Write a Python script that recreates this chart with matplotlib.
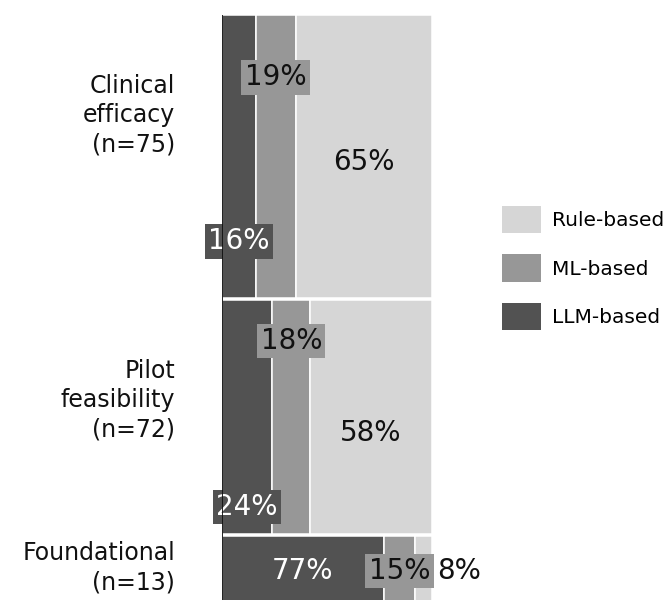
import matplotlib.pyplot as plt
from matplotlib.patches import Patch

# share of each system type within every study category (percent)
groups = ['Clinical\nefficacy\n(n=75)', 'Pilot\nfeasibility\n(n=72)', 'Foundational\n(n=13)']
llm_pct = [16, 24, 77]
ml_pct = [19, 18, 15]
rule_pct = [65, 58, 8]

series_names = ['LLM-based', 'ML-based', 'Rule-based']
colors = ['#525252', '#979797', '#d6d6d6']
text_colors = ['white', '#111111', '#111111']

# row layout in pixel units, counted from the top of the figure
row_top = [15, 300, 536]
row_height = [283, 234, 70]
name_y = [115, 400, 568]
# vertical spot of each segment label, as a fraction of the row height
label_frac = [[0.80, 0.22, 0.52], [0.885, 0.175, 0.57], [0.5, 0.5, 0.5]]

plt.rcParams['font.family'] = 'DejaVu Sans'
fig = plt.figure(figsize=(6.72, 6), dpi=100)
ax = fig.add_axes([222 / 672, 0, 210 / 672, 1])
ax.set_xlim(0, 100)
ax.set_ylim(600, 0)
ax.axis('off')

series = [llm_pct, ml_pct, rule_pct]
for i in range(len(groups)):
    yc = row_top[i] + row_height[i] / 2
    left = 0
    for j, vals in enumerate(series):
        w = vals[i]
        ax.barh(yc, w, left=left, height=row_height[i], color=colors[j],
                edgecolor='white', linewidth=1.1, zorder=2)
        ly = row_top[i] + row_height[i] * label_frac[i][j]
        if w < 10:
            # narrow slice: put the number just past the bar end
            ax.text(left + w + 2.5, ly, '%d%%' % w, ha='left', va='center',
                    fontsize=20, color=text_colors[j], zorder=4, clip_on=False)
        else:
            ax.text(left + w / 2, ly, '%d%%' % w, ha='center', va='center',
                    fontsize=20, color=text_colors[j], zorder=4,
                    bbox=dict(boxstyle='square,pad=0.12', facecolor=colors[j],
                              edgecolor='none'))
        left += w
    ax.text(-22.4, name_y[i], groups[i], ha='right', va='center', fontsize=17,
            linespacing=1.27, color='#111111', clip_on=False)

ax.vlines(0, row_top[0], 600, color='#111111', linewidth=1.3, zorder=5)

handles = [Patch(facecolor=colors[j], edgecolor='none') for j in (2, 1, 0)]
fig.legend(handles, [series_names[j] for j in (2, 1, 0)], loc='center left',
           bbox_to_anchor=(502 / 672, 1 - 268 / 600), frameon=False,
           fontsize=14.5, handlelength=1.95, handleheight=1.7,
           labelspacing=1.05, handletextpad=0.55, borderpad=0,
           borderaxespad=0)

fig.savefig('out.png', dpi=100)
